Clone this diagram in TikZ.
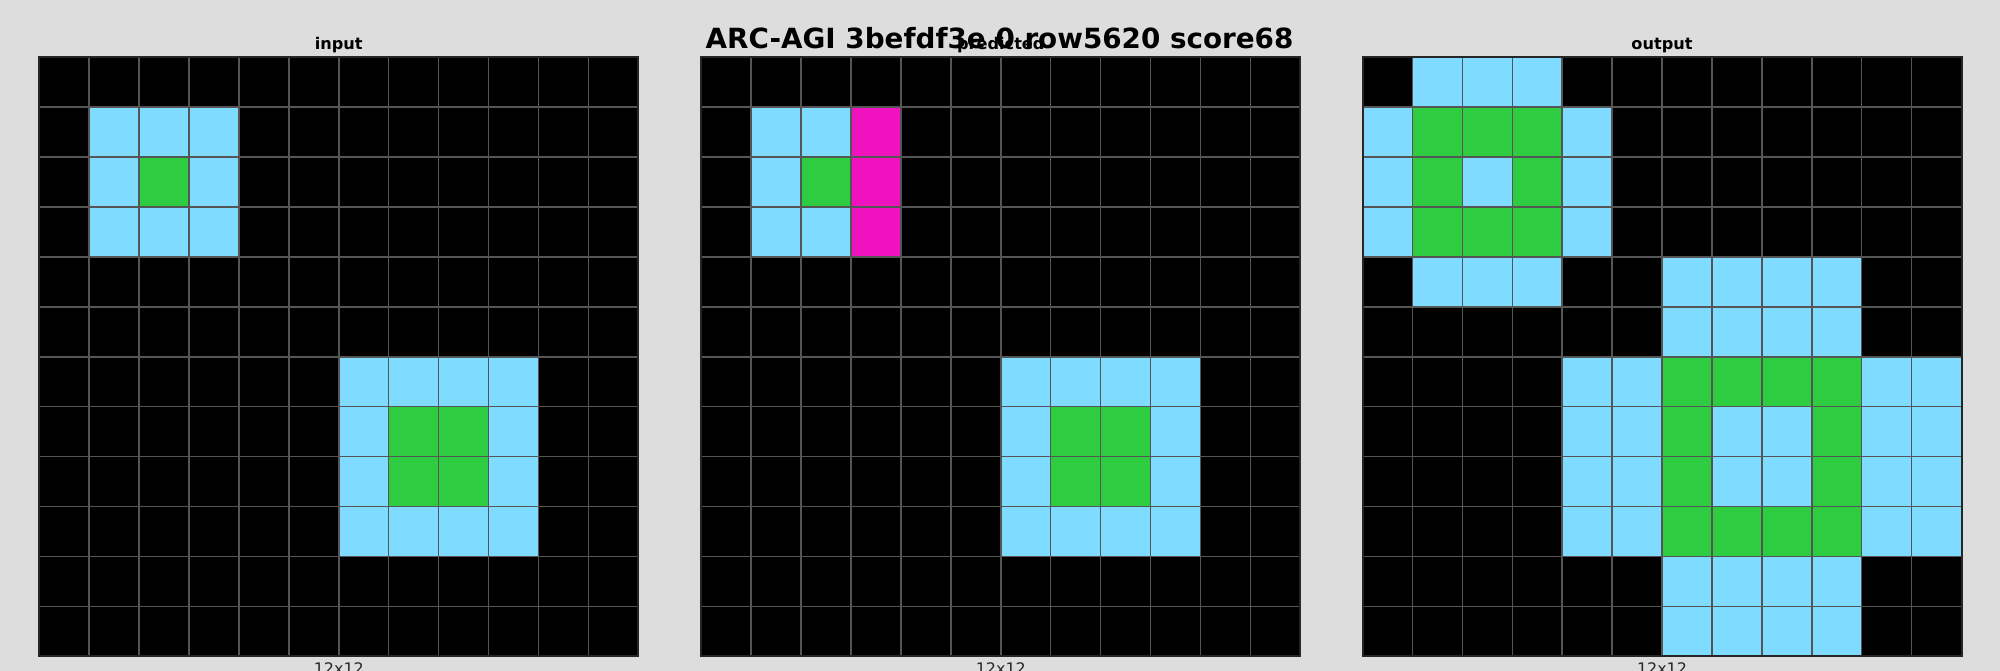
\documentclass[tikz,border=0pt]{standalone}
\usepackage{fontspec}
\setmainfont{DejaVu Sans}
\definecolor{bg}{RGB}{221,221,221}
\definecolor{c0}{HTML}{000000}
\definecolor{c3}{HTML}{2ECC40}
\definecolor{c6}{HTML}{F012BE}
\definecolor{c8}{HTML}{7FDBFF}
\definecolor{gline}{RGB}{85,85,85}
\definecolor{lbl}{RGB}{40,40,40}
\tikzset{
  cellbox/.style={draw=gline, line width=1.5bp},
  gridframe/.style={draw=black!85, line width=2bp},
  titletext/.style={font=\bfseries\fontsize{27.9}{30}\selectfont, anchor=base, inner sep=0},
  subtitle/.style={font=\bfseries\fontsize{16.2}{18}\selectfont, anchor=base, inner sep=0},
  sizetext/.style={font=\fontsize{16}{18}\selectfont, text=lbl, anchor=north, inner sep=0}
}
\newcommand\arcgrid[3]{%
  \foreach \rowdata [count=\r from 0] in {#3} {
    \foreach \v [count=\c from 0] in \rowdata {
      \path[cellbox, fill=c\v] ({#1+\c*599/12},{#2+\r*599/12}) rectangle ++(599/12,599/12);
    }
  }
  \draw[gridframe] (#1,#2) rectangle ++(599,599);
}
\begin{document}
\begin{tikzpicture}[x=1bp,y=-1bp]
\fill[bg] (0,0) rectangle (2000,671);
\useasboundingbox (0,0) rectangle (2000,671);
% input
\arcgrid{39.3}{57.3}{
{0,0,0,0,0,0,0,0,0,0,0,0},
{0,8,8,8,0,0,0,0,0,0,0,0},
{0,8,3,8,0,0,0,0,0,0,0,0},
{0,8,8,8,0,0,0,0,0,0,0,0},
{0,0,0,0,0,0,0,0,0,0,0,0},
{0,0,0,0,0,0,0,0,0,0,0,0},
{0,0,0,0,0,0,8,8,8,8,0,0},
{0,0,0,0,0,0,8,3,3,8,0,0},
{0,0,0,0,0,0,8,3,3,8,0,0},
{0,0,0,0,0,0,8,8,8,8,0,0},
{0,0,0,0,0,0,0,0,0,0,0,0},
{0,0,0,0,0,0,0,0,0,0,0,0}}
% predicted
\arcgrid{701.3}{57.3}{
{0,0,0,0,0,0,0,0,0,0,0,0},
{0,8,8,6,0,0,0,0,0,0,0,0},
{0,8,3,6,0,0,0,0,0,0,0,0},
{0,8,8,6,0,0,0,0,0,0,0,0},
{0,0,0,0,0,0,0,0,0,0,0,0},
{0,0,0,0,0,0,0,0,0,0,0,0},
{0,0,0,0,0,0,8,8,8,8,0,0},
{0,0,0,0,0,0,8,3,3,8,0,0},
{0,0,0,0,0,0,8,3,3,8,0,0},
{0,0,0,0,0,0,8,8,8,8,0,0},
{0,0,0,0,0,0,0,0,0,0,0,0},
{0,0,0,0,0,0,0,0,0,0,0,0}}
% output
\arcgrid{1362.5}{57.3}{
{0,8,8,8,0,0,0,0,0,0,0,0},
{8,3,3,3,8,0,0,0,0,0,0,0},
{8,3,8,3,8,0,0,0,0,0,0,0},
{8,3,3,3,8,0,0,0,0,0,0,0},
{0,8,8,8,0,0,8,8,8,8,0,0},
{0,0,0,0,0,0,8,8,8,8,0,0},
{0,0,0,0,8,8,3,3,3,3,8,8},
{0,0,0,0,8,8,3,8,8,3,8,8},
{0,0,0,0,8,8,3,8,8,3,8,8},
{0,0,0,0,8,8,3,3,3,3,8,8},
{0,0,0,0,0,0,8,8,8,8,0,0},
{0,0,0,0,0,0,8,8,8,8,0,0}}
% labels
\node[subtitle] (tin) at (338.8,49.3) {input};
\node[subtitle] (tpred) at (1000.8,49.3) {predicted};
\node[subtitle] (tout) at (1662,49.3) {output};
\node[titletext] (title) at (999.5,48.3) {ARC-AGI 3befdf3e 0 row5620 score68};
\node[sizetext] (sin) at (338.8,662.5) {12x12};
\node[sizetext] (spred) at (1000.8,662.5) {12x12};
\node[sizetext] (sout) at (1662,662.5) {12x12};
\end{tikzpicture}
\end{document}
